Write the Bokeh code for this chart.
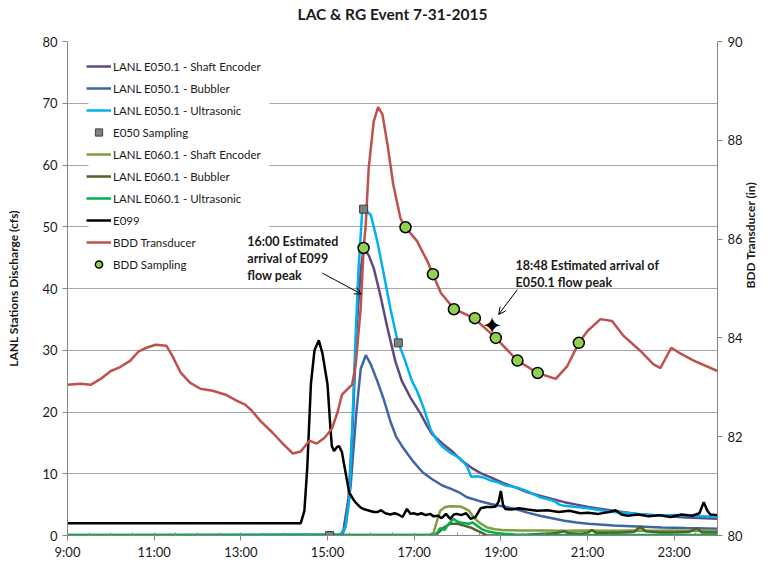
import math
from bokeh.plotting import figure
from bokeh.models import (Range1d, LinearAxis, FixedTicker, Legend, LegendItem,
                          Label, Arrow, OpenHead, BoxAnnotation, Title)
from bokeh.core.properties import value
from bokeh.embed import file_html
from bokeh.resources import INLINE

# ---------------- data (time "HH:MM", value) ----------------
e050_shaft = [("9:00", 0), ("15:17", 0), ("15:22", 0.8), ("15:29", 6), ("15:35", 18), ("15:40", 33),
              ("15:46", 43), ("15:50", 46.5), ("15:57", 45.4), ("16:04", 43.3), ("16:13", 39.0),
              ("16:23", 33.6), ("16:34", 28.2), ("16:43", 25.0), ("16:55", 22.3), ("17:09", 19.7),
              ("17:18", 17.7), ("17:25", 16.4), ("17:38", 15.0), ("17:52", 13.7), ("18:05", 12.2),
              ("18:19", 11.0), ("18:32", 10.1), ("18:46", 9.4), ("19:03", 8.5), ("19:20", 7.8),
              ("19:37", 7.0), ("19:54", 6.45), ("20:11", 5.9), ("20:28", 5.4), ("20:45", 5.0),
              ("21:01", 4.6), ("21:35", 4.0), ("22:09", 3.5), ("22:43", 3.2), ("23:17", 2.9), ("24:00", 2.7)]

e050_bubbler = [("9:00", 0), ("15:20", 0), ("15:25", 1.5), ("15:32", 8), ("15:40", 20), ("15:46", 27),
                ("15:53", 29.2), ("16:00", 27.7), ("16:09", 25.0), ("16:18", 22.0), ("16:27", 18.5),
                ("16:35", 16.0), ("16:43", 14.5), ("16:51", 13.2), ("17:00", 11.8), ("17:12", 10.2),
                ("17:25", 9.1), ("17:39", 8.1), ("17:52", 7.5), ("18:02", 7.0), ("18:13", 6.2),
                ("18:30", 5.6), ("18:46", 5.1), ("19:03", 4.7), ("19:20", 4.3), ("19:37", 3.7),
                ("19:54", 3.2), ("20:11", 2.8), ("20:28", 2.4), ("20:45", 2.1), ("21:01", 1.9),
                ("21:36", 1.6), ("22:09", 1.45), ("22:43", 1.3), ("23:17", 1.2), ("24:00", 1.1)]

e050_ultra = [("9:00", 0), ("15:19", 0.2), ("15:25", 1.5), ("15:30", 5.6), ("15:34", 17), ("15:39", 32.5),
              ("15:43", 43.3), ("15:48", 52.4), ("15:53", 52.7), ("16:00", 51.9), ("16:09", 47.6),
              ("16:18", 42.3), ("16:27", 36.8), ("16:37", 31.5), ("16:46", 28.8), ("16:57", 25.0),
              ("17:04", 23.4), ("17:13", 20.7), ("17:23", 17.1), ("17:31", 15.5), ("17:39", 14.4),
              ("17:50", 13.4), ("18:02", 12.6), ("18:08", 12.0), ("18:13", 11.2), ("18:19", 9.5),
              ("18:27", 9.6), ("18:36", 9.4), ("18:46", 8.9), ("18:56", 8.6), ("19:07", 8.1),
              ("19:17", 7.9), ("19:27", 7.6), ("19:40", 7.0), ("19:54", 6.2), ("20:04", 5.9),
              ("20:14", 5.6), ("20:21", 5.0), ("20:28", 4.8), ("20:45", 4.6), ("21:01", 4.4),
              ("21:18", 4.1), ("21:36", 3.8), ("21:52", 3.7), ("22:09", 3.5), ("22:26", 3.3),
              ("22:44", 3.2), ("23:00", 3.3), ("23:17", 3.2), ("23:40", 3.1), ("24:00", 3.0)]

e050_sampling = [("15:03", 0), ("15:50", 52.85), ("16:38", 31.2)]

e060_shaft = [("9:00", 0.1), ("17:22", 0.1), ("17:27", 0.5), ("17:32", 2.5), ("17:36", 4.0), ("17:43", 4.6),
              ("17:50", 4.75), ("18:04", 4.7), ("18:10", 4.4), ("18:16", 4.0), ("18:22", 3.0),
              ("18:27", 2.4), ("18:34", 1.8), ("18:41", 1.3), ("18:52", 1.0), ("19:04", 0.85),
              ("19:30", 0.8), ("20:00", 0.8), ("20:30", 0.75), ("21:00", 0.8), ("21:30", 0.75),
              ("22:00", 0.8), ("22:30", 0.75), ("23:00", 0.8), ("23:30", 0.75), ("24:00", 0.8)]

e060_bubbler = [("9:00", 0), ("17:28", 0), ("17:32", 0.3), ("17:40", 1.2), ("17:50", 1.9), ("18:00", 1.9),
                ("18:09", 1.6), ("18:18", 1.3), ("18:27", 0.8), ("18:36", 0.3), ("18:41", 0),
                ("19:30", 0), ("19:45", 0.2), ("20:00", 0.3), ("20:15", 0.35), ("20:27", 0.7),
                ("20:35", 0.35), ("20:50", 0.3), ("21:00", 0.4), ("21:06", 0.9), ("21:12", 0.4),
                ("21:30", 0.45), ("21:50", 0.5), ("22:05", 0.6), ("22:13", 1.45), ("22:20", 0.7),
                ("22:40", 0.5), ("23:00", 0.5), ("23:20", 0.55), ("23:32", 1.2), ("23:38", 0.5),
                ("24:00", 0.5)]

e060_ultra = [("9:00", 0.1), ("17:28", 0.1), ("17:32", 0.5), ("17:36", 1.2), ("17:39", 1.1), ("17:42", 0.9),
              ("17:46", 1.6), ("17:51", 2.3), ("17:55", 2.7), ("17:59", 2.3), ("18:04", 2.1),
              ("18:10", 2.0), ("18:16", 1.9), ("18:21", 2.1), ("18:27", 1.6), ("18:34", 1.0),
              ("18:41", 0.7), ("18:52", 0.45), ("19:04", 0.3), ("19:20", 0.15), ("20:00", 0.1),
              ("24:00", 0.1)]

e099 = [("9:00", 2.0), ("14:23", 2.0), ("14:28", 4.0), ("14:32", 11), ("14:37", 24.5), ("14:42", 30),
        ("14:48", 31.6), ("14:53", 29.5), ("15:00", 24.5), ("15:04", 17.5), ("15:06", 14.5),
        ("15:09", 13.7), ("15:13", 14.3), ("15:16", 14.5), ("15:20", 13.5), ("15:23", 11.5),
        ("15:30", 7.0), ("15:36", 5.8), ("15:40", 5.2), ("15:46", 4.5), ("15:52", 4.2), ("16:04", 3.8),
        ("16:09", 3.8), ("16:14", 4.1), ("16:20", 3.6), ("16:27", 3.4), ("16:33", 3.6), ("16:38", 3.4),
        ("16:44", 3.0), ("16:50", 4.3), ("16:55", 3.5), ("16:59", 3.6), ("17:05", 3.4), ("17:10", 3.6),
        ("17:16", 3.3), ("17:22", 3.5), ("17:27", 3.1), ("17:33", 3.2), ("17:38", 2.8), ("17:44", 3.5),
        ("17:50", 2.7), ("17:55", 3.4), ("17:59", 3.5), ("18:05", 3.3), ("18:12", 3.6), ("18:18", 2.7),
        ("18:25", 3.0), ("18:32", 4.4), ("18:40", 4.6), ("18:48", 4.6), ("18:53", 4.7), ("18:57", 5.5),
        ("19:00", 7.2), ("19:03", 5.0), ("19:06", 4.3), ("19:15", 4.2), ("19:25", 4.4), ("19:37", 4.2),
        ("19:50", 4.0), ("20:05", 4.1), ("20:20", 3.8), ("20:35", 4.0), ("20:50", 3.6), ("21:01", 3.7),
        ("21:15", 3.5), ("21:30", 3.8), ("21:39", 4.1), ("21:47", 3.4), ("21:56", 3.2), ("22:10", 3.4),
        ("22:25", 3.1), ("22:40", 3.3), ("22:55", 3.0), ("23:10", 3.4), ("23:25", 3.2), ("23:35", 3.6),
        ("23:41", 5.4), ("23:46", 4.0), ("23:50", 3.4), ("24:00", 3.3)]

bdd_transducer = [("9:00", 83.05), ("9:18", 83.07), ("9:32", 83.05), ("9:46", 83.17), ("10:00", 83.33),
                  ("10:13", 83.41), ("10:27", 83.54), ("10:38", 83.72), ("10:49", 83.80), ("11:02", 83.86),
                  ("11:17", 83.84), ("11:25", 83.64), ("11:37", 83.29), ("11:50", 83.09), ("12:04", 82.97),
                  ("12:21", 82.93), ("12:39", 82.85), ("12:54", 82.73), ("13:06", 82.65), ("13:15", 82.53),
                  ("13:27", 82.32), ("13:44", 82.08), ("13:58", 81.86), ("14:12", 81.66), ("14:23", 81.70),
                  ("14:35", 81.92), ("14:45", 81.86), ("14:56", 81.98), ("15:06", 82.16), ("15:14", 82.50),
                  ("15:20", 82.85), ("15:28", 82.97), ("15:34", 83.05), ("15:39", 83.45), ("15:46", 84.61),
                  ("15:50", 85.8), ("15:53", 86.3), ("15:57", 87.43), ("16:04", 88.38), ("16:10", 88.67),
                  ("16:16", 88.53), ("16:23", 87.92), ("16:31", 87.11), ("16:41", 86.42), ("16:48", 86.24),
                  ("17:04", 85.96), ("17:18", 85.56), ("17:26", 85.29), ("17:37", 84.91), ("17:55", 84.59),
                  ("18:24", 84.39), ("18:32", 84.28), ("18:53", 84.00), ("19:23", 83.54), ("19:51", 83.29),
                  ("20:16", 83.17), ("20:32", 83.43), ("20:48", 83.90), ("21:00", 84.14), ("21:18", 84.38),
                  ("21:34", 84.34), ("21:50", 84.04), ("22:13", 83.74), ("22:31", 83.47), ("22:41", 83.39),
                  ("22:56", 83.80), ("23:09", 83.68), ("23:27", 83.54), ("24:00", 83.33)]

bdd_sampling = [("15:50", 85.82), ("16:48", 86.24), ("17:26", 85.29), ("17:55", 84.58), ("18:24", 84.40),
                ("18:53", 84.0), ("19:23", 83.54), ("19:51", 83.29), ("20:48", 83.90)]

flow_peak_star = [("18:48", 84.25)]

x_tick_hours = [9, 11, 13, 15, 17, 19, 21, 23]
left_ticks = [0, 10, 20, 30, 40, 50, 60, 70, 80]
right_ticks = [80, 82, 84, 86, 88, 90]


def hrs(s):
    h, m = s.split(":")
    return int(h) + int(m) / 60.0


def xs(series):
    return [hrs(t) for t, _ in series]


def ys(series):
    return [v for _, v in series]


FONT = "Lato"
TXT = "#1a1a1a"
AX = "#868686"

p = figure(width=768, height=566, output_backend="svg", toolbar_location=None,
           x_range=Range1d(9, 24), y_range=Range1d(0, 80),
           min_border_left=67, min_border_right=51, min_border_top=40, min_border_bottom=31)
p.extra_y_ranges = {"bdd": Range1d(80, 90)}
p.outline_line_color = None
p.background_fill_color = "white"
p.border_fill_color = "white"

# title (outer) plus an empty spacer title next to the frame
p.title.text = "LAC & RG Event 7-31-2015"
p.title.align = "center"
p.title.text_font = FONT
p.title.text_font_style = "bold"
p.title.text_font_size = "15.5px"
p.title.text_color = TXT
p.title.standoff = 4
p.add_layout(Title(text=" ", text_font=FONT, text_font_size="12px", standoff=0), "above")

# x axis
xa = p.xaxis[0]
xa.ticker = FixedTicker(ticks=x_tick_hours, minor_ticks=[9 + 0.5 * i for i in range(31)])
xa.major_label_overrides = {h: f"{h}:00" for h in x_tick_hours}
xa.major_tick_out = 5
xa.major_tick_in = 0
xa.minor_tick_in = 3
xa.minor_tick_out = 0
xa.axis_line_color = AX
xa.major_tick_line_color = AX
xa.minor_tick_line_color = AX
xa.major_label_text_font = FONT
xa.major_label_text_font_size = "13px"
xa.major_label_text_color = TXT
xa.major_label_standoff = 3

# left y axis
ya = p.yaxis[0]
ya.ticker = FixedTicker(ticks=left_ticks)
ya.axis_label = "LANL Stations Discharge (cfs)"
ya.axis_label_text_font = FONT
ya.axis_label_text_font_style = "bold"
ya.axis_label_text_font_size = "12px"
ya.axis_label_text_color = TXT
ya.axis_label_standoff = 18
ya.major_tick_out = 5
ya.major_tick_in = 0
ya.minor_tick_out = 0
ya.minor_tick_in = 0
ya.axis_line_color = AX
ya.major_tick_line_color = AX
ya.major_label_text_font = FONT
ya.major_label_text_font_size = "13px"
ya.major_label_text_color = TXT
ya.major_label_standoff = 5

# right y axis
ra = LinearAxis(y_range_name="bdd", ticker=FixedTicker(ticks=right_ticks))
ra.axis_label = "BDD Transducer (in)"
ra.axis_label_text_font = FONT
ra.axis_label_text_font_style = "bold"
ra.axis_label_text_font_size = "12px"
ra.axis_label_text_color = TXT
ra.axis_label_standoff = 5
try:
    ra.axis_label_orientation = math.pi / 2
except Exception:
    pass
ra.major_tick_out = 5
ra.major_tick_in = 0
ra.minor_tick_out = 0
ra.minor_tick_in = 0
ra.axis_line_color = AX
ra.major_tick_line_color = AX
ra.major_label_text_font = FONT
ra.major_label_text_font_size = "13px"
ra.major_label_text_color = TXT
ra.major_label_standoff = 5
p.add_layout(ra, "right")

# grid
p.xgrid.visible = False
p.ygrid.grid_line_color = "#A6A6A6"
p.ygrid.grid_line_width = 1

LW = 2.5
colors = {
    "e050_shaft": "#604A7B",
    "e050_bubbler": "#3E66A6",
    "e050_ultra": "#00B0F0",
    "e060_shaft": "#7F9F3F",
    "e060_bubbler": "#4F6228",
    "e060_ultra": "#00B050",
    "e099": "#000000",
    "bdd": "#C0504D",
}

# white legend box (covers the gridlines behind the legend)
legend_box = dict(left=9.485, right=13.66, bottom=42.4, top=79.0)
p.add_layout(BoxAnnotation(fill_color="white", fill_alpha=1, line_color=None, level="underlay",
                           **legend_box))

r_e050s = p.line(xs(e050_shaft), ys(e050_shaft), line_width=LW, color=colors["e050_shaft"])
r_e050b = p.line(xs(e050_bubbler), ys(e050_bubbler), line_width=LW, color=colors["e050_bubbler"])
r_e050u = p.line(xs(e050_ultra), ys(e050_ultra), line_width=LW, color=colors["e050_ultra"])
r_e060s = p.line(xs(e060_shaft), ys(e060_shaft), line_width=LW, color=colors["e060_shaft"])
r_e060b = p.line(xs(e060_bubbler), ys(e060_bubbler), line_width=LW, color=colors["e060_bubbler"])
r_e060u = p.line(xs(e060_ultra), ys(e060_ultra), line_width=LW, color=colors["e060_ultra"])
r_e099 = p.line(xs(e099), ys(e099), line_width=LW, color=colors["e099"])
r_bdd = p.line(xs(bdd_transducer), ys(bdd_transducer), line_width=LW, color=colors["bdd"],
               y_range_name="bdd")
r_samp = p.scatter(xs(e050_sampling), ys(e050_sampling), marker="square", size=8,
                   fill_color="#7F7F7F", line_color="#3F3F3F", line_width=1)
r_bdds = p.scatter(xs(bdd_sampling), ys(bdd_sampling), marker="circle", size=11,
                   fill_color="#92D050", line_color="#000000", line_width=1.5, y_range_name="bdd")
p.text(xs(flow_peak_star), ys(flow_peak_star), text=["\u2726"], y_range_name="bdd",
       text_font=value("DejaVu Sans"), text_font_size="24px", text_align="center",
       text_baseline="middle", text_color="black")

legend = Legend(items=[
    LegendItem(label="LANL E050.1 - Shaft Encoder", renderers=[r_e050s]),
    LegendItem(label="LANL E050.1 - Bubbler", renderers=[r_e050b]),
    LegendItem(label="LANL E050.1 - Ultrasonic", renderers=[r_e050u]),
    LegendItem(label="E050 Sampling", renderers=[r_samp]),
    LegendItem(label="LANL E060.1 - Shaft Encoder", renderers=[r_e060s]),
    LegendItem(label="LANL E060.1 - Bubbler", renderers=[r_e060b]),
    LegendItem(label="LANL E060.1 - Ultrasonic", renderers=[r_e060u]),
    LegendItem(label="E099", renderers=[r_e099]),
    LegendItem(label="BDD Transducer", renderers=[r_bdd]),
    LegendItem(label="BDD Sampling", renderers=[r_bdds]),
], location=(19, 262))
legend.border_line_color = None
legend.background_fill_alpha = 0
legend.padding = 6
legend.margin = 0
legend.spacing = 4
legend.glyph_width = 25
legend.glyph_height = 18
legend.label_height = 18
legend.label_standoff = 2
legend.label_text_font = FONT
legend.label_text_font_size = "11.5px"
legend.label_text_color = TXT
p.add_layout(legend)

# annotations
ann1 = ["16:00 Estimated", "arrival of E099", "flow peak"]
ann1_pos = (13.15, [47.6, 44.8, 42.1])
ann2 = ["18:48 Estimated arrival of", "E050.1 flow peak"]
ann2_pos = (19.34, [43.7, 41.0])
for txt, yy in zip(ann1, ann1_pos[1]):
    p.add_layout(Label(x=ann1_pos[0], y=yy, text=txt, text_font=FONT, text_font_style="bold",
                       text_font_size="12.5px", text_baseline="middle", text_color=TXT,
                       level="overlay"))
for txt, yy in zip(ann2, ann2_pos[1]):
    p.add_layout(Label(x=ann2_pos[0], y=yy, text=txt, text_font=FONT, text_font_style="bold",
                       text_font_size="12.5px", text_baseline="middle", text_color=TXT,
                       level="overlay"))

arrows = [((14.88, 42.5), (15.78, 39.1)), ((19.38, 39.8), (18.95, 35.8))]
for (xs0, ys0), (xe, ye) in arrows:
    p.add_layout(Arrow(end=OpenHead(size=7, line_width=1, line_color="black"),
                       x_start=xs0, y_start=ys0, x_end=xe, y_end=ye,
                       line_width=1, line_color="black", level="overlay"))

open("out.html", "w").write(file_html(p, INLINE))
